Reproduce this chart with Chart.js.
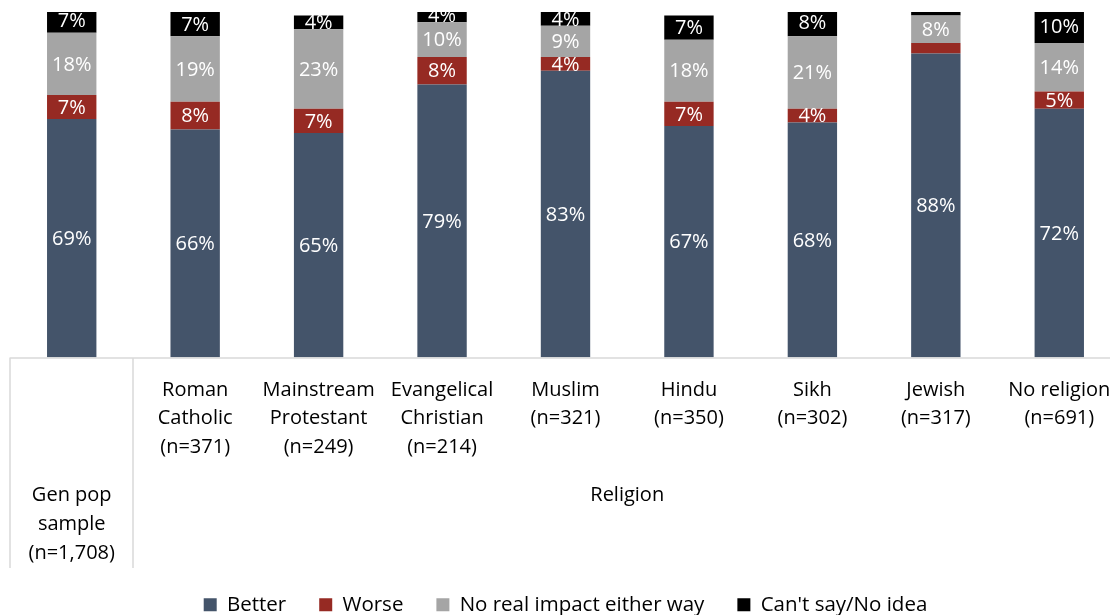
<!DOCTYPE html>
<html>
<head>
<meta charset="utf-8">
<script src="https://cdn.jsdelivr.net/npm/chart.js@4.4.1/dist/chart.umd.min.js"></script>
<style>
  html, body { margin: 0; padding: 0; background: #ffffff; overflow: hidden; }
  #wrap { width: 1122px; height: 615px; }
</style>
</head>
<body>
<div id="wrap"><canvas id="chart" width="1122" height="615"></canvas></div>
<script>
// Sub-category labels (one entry per bar)
const categoryLabels = [
  [],
  ["Roman", "Catholic", "(n=371)"],
  ["Mainstream", "Protestant", "(n=249)"],
  ["Evangelical", "Christian", "(n=214)"],
  ["Muslim", "(n=321)"],
  ["Hindu", "(n=350)"],
  ["Sikh", "(n=302)"],
  ["Jewish", "(n=317)"],
  ["No religion", "(n=691)"]
];

// Outer grouping level of the category axis
const groupLabels = [["Gen pop", "sample", "(n=1,708)"], ["Religion"]];
const groupFirst = [0, 1];
const groupLast = [0, 8];

// Shares in percent
const better   = [69, 66, 65, 79, 83, 67, 68, 88, 72];
const worse    = [7, 8, 7, 8, 4, 7, 4, 3, 5];
const noImpact = [18, 19, 23, 10, 9, 18, 21, 8, 14];
const cantSay  = [7, 7, 4, 4, 4, 7, 8, 1, 10];

const seriesNames = ["Better", "Worse", "No real impact either way", "Can't say/No idea"];
const seriesColors = ["#44546A", "#962A23", "#A5A5A5", "#000000"];

const FONT = "'Open Sans', 'Noto Sans', sans-serif";
const LINE_COLOR = "#D9D9D9";

// White value labels centred in each segment (small slivers stay unlabelled)
const segmentLabels = {
  id: "segmentLabels",
  afterDatasetsDraw(chart) {
    const ctx = chart.ctx;
    const area = chart.chartArea;
    ctx.save();
    ctx.beginPath();
    ctx.rect(area.left, area.top, area.right - area.left, area.bottom - area.top);
    ctx.clip();
    ctx.font = "20px " + FONT;
    ctx.fillStyle = "#ffffff";
    ctx.textAlign = "center";
    ctx.textBaseline = "middle";
    chart.data.datasets.forEach((ds, di) => {
      const meta = chart.getDatasetMeta(di);
      meta.data.forEach((bar, i) => {
        const v = ds.data[i];
        if (v < 4) return;
        ctx.fillText(v + "%", bar.x, (bar.y + bar.base) / 2 + 1);
      });
    });
    ctx.restore();
  }
};

// Two-level category axis: sub labels, group labels and divider lines
const groupedAxis = {
  id: "groupedAxis",
  afterDraw(chart) {
    const ctx = chart.ctx;
    const x = chart.scales.x;
    const area = chart.chartArea;
    const step = x.getPixelForValue(1) - x.getPixelForValue(0);
    const axisBottom = 568;
    ctx.save();
    ctx.strokeStyle = LINE_COLOR;
    ctx.lineWidth = 1.5;
    ctx.beginPath();
    ctx.moveTo(area.left, area.bottom + 0.5);
    ctx.lineTo(area.right, area.bottom + 0.5);
    // outer left edge and divider between the groups
    ctx.moveTo(area.left, area.bottom);
    ctx.lineTo(area.left, axisBottom);
    const divX = Math.round(x.getPixelForValue(groupLast[0]) + step / 2);
    ctx.moveTo(divX, area.bottom);
    ctx.lineTo(divX, axisBottom);
    ctx.stroke();

    ctx.fillStyle = "#000000";
    ctx.font = "20px " + FONT;
    ctx.textAlign = "center";
    ctx.textBaseline = "middle";
    categoryLabels.forEach((lines, i) => {
      const cx = x.getPixelForValue(i);
      lines.forEach((t, k) => ctx.fillText(t, cx, 390 + k * 28.5));
    });
    groupLabels.forEach((lines, g) => {
      const l = x.getPixelForValue(groupFirst[g]) - step / 2;
      const r = x.getPixelForValue(groupLast[g]) + step / 2;
      const cx = (l + r) / 2;
      lines.forEach((t, k) => ctx.fillText(t, cx, 495 + k * 29));
    });
    ctx.restore();
  }
};

const values = [better, worse, noImpact, cantSay];

new Chart(document.getElementById("chart"), {
  type: "bar",
  data: {
    labels: categoryLabels.map((l, i) => l.length ? l.join(" ") : groupLabels[0].join(" ")),
    datasets: values.map((d, i) => ({
      label: seriesNames[i],
      data: d,
      backgroundColor: seriesColors[i],
      borderWidth: 0,
      categoryPercentage: 1.0,
      barPercentage: 0.4
    }))
  },
  options: {
    responsive: false,
    devicePixelRatio: 1,
    animation: false,
    layout: { padding: { top: 12, left: 10, right: 1, bottom: -10 } },
    scales: {
      x: {
        stacked: true,
        grid: { display: false },
        border: { display: false },
        ticks: { display: false },
        afterFit(scale) { scale.height = 204; }
      },
      y: {
        stacked: true,
        display: false,
        min: 0,
        max: 100
      }
    },
    plugins: {
      legend: {
        position: "bottom",
        labels: {
          boxWidth: 13,
          boxHeight: 13,
          padding: 33,
          color: "#000000",
          font: { family: FONT, size: 20.5 }
        }
      },
      tooltip: { enabled: false }
    }
  },
  plugins: [segmentLabels, groupedAxis]
});
</script>
</body>
</html>
